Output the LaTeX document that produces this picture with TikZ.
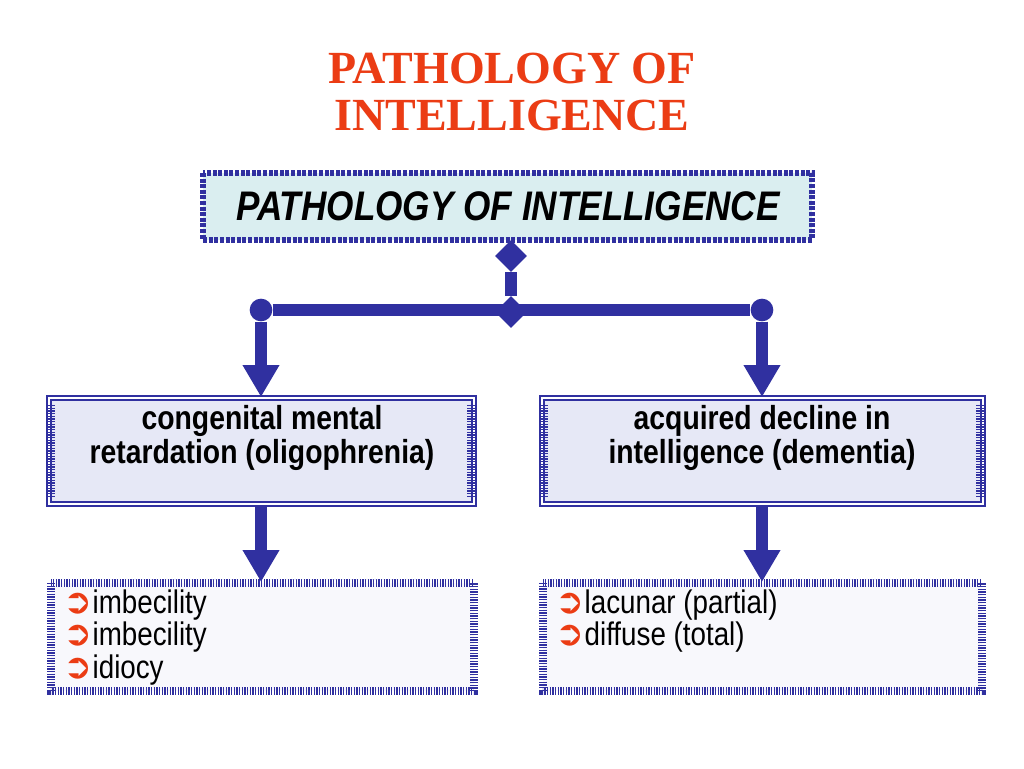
\documentclass[tikz,border=0pt]{standalone}
\usepackage{fontspec}
\setmainfont{Liberation Serif}
\newfontfamily\narrowsans[FakeStretch=0.85]{Liberation Sans}
\newfontfamily\symfont{DejaVu Sans}
\usepackage{tikz}
\usepackage{xcolor}
\usetikzlibrary{arrows.meta,shapes.geometric}
\definecolor{linkblue}{RGB}{48,48,160}
\definecolor{titlered}{RGB}{235,60,20}
\definecolor{topfill}{RGB}{218,238,240}
\definecolor{midfill}{RGB}{230,232,246}
\definecolor{lowfill}{RGB}{248,248,252}
\newcommand{\pointer}{{\color{titlered}\symfont\fontsize{26}{28}\selectfont ➲}}
\tikzset{
  topbox/.style={fill=topfill, draw=linkblue, line width=5pt, dash pattern=on 3pt off 1.2pt},
  midbox/.style={fill=midfill, draw=linkblue, double=white, double distance=1.5pt, line width=1.5pt},
  lowbox/.style={fill=lowfill, draw=linkblue, line width=6pt, dash pattern=on 1pt off 1pt},
  link/.style={draw=linkblue, line width=8.5pt},
  downarrow/.style={link, -{Triangle[length=24pt,width=26pt]}},
  dot/.style={circle, fill=linkblue, inner sep=0pt, minimum size=17pt},
  knot/.style={diamond, fill=linkblue, inner sep=0pt, minimum size=24pt},
}
\begin{document}
\begin{tikzpicture}[x=0.75pt,y=0.75pt,yscale=-1,xscale=1]
  \fill[white] (0,0) rectangle (1024,768);

  % Title
  \node (title) at (512,92) [align=center, text=titlered, font=\fontsize{34.5}{35}\selectfont\bfseries] {PATHOLOGY OF\\INTELLIGENCE};

  % Boxes
  \draw[topbox] (203,173) rectangle (812,240);
  \node (main) at (508,206) [font=\narrowsans\fontsize{31}{33}\selectfont\bfseries\itshape] {PATHOLOGY OF INTELLIGENCE};

  \draw[midbox] (49,398) rectangle (474,504);
  \draw[linkblue, line width=6pt, dash pattern=on 1pt off 1pt] (51,405) -- (51,497) (471,405) -- (471,497);
  \node (congenital) at (262,438) [align=center, font=\narrowsans\fontsize{25}{25}\selectfont\bfseries] {congenital mental\\retardation (oligophrenia)};

  \draw[midbox] (542,398) rectangle (983,504);
  \draw[linkblue, line width=6pt, dash pattern=on 1pt off 1pt] (544,405) -- (544,497) (980,405) -- (980,497);
  \node (acquired) at (762,438) [align=center, font=\narrowsans\fontsize{25}{25}\selectfont\bfseries] {acquired decline in\\intelligence (dementia)};

  \draw[lowbox] (51,583) rectangle (474,691);
  \node (oligo) at (62,588) [anchor=north west, align=left, inner sep=1pt, font=\narrowsans\fontsize{24.5}{24.5}\selectfont] {\pointer imbecility\\\pointer imbecility\\\pointer idiocy};

  \draw[lowbox] (543,583) rectangle (982,691);
  \node (dement) at (554,588) [anchor=north west, align=left, inner sep=1pt, font=\narrowsans\fontsize{24.5}{24.5}\selectfont] {\pointer lacunar (partial)\\\pointer diffuse (total)};

  % Connectors
  \node (top) at (511,256) [knot] {};
  \node (hub) at (511,312) [knot] {};
  \node (ldot) at (261,310) [dot] {};
  \node (rdot) at (762,310) [dot] {};
  \coordinate (lmid) at (261,397);
  \coordinate (rmid) at (762,397);
  \coordinate (lout) at (261,506);
  \coordinate (rout) at (762,506);
  \coordinate (llow) at (261,582);
  \coordinate (rlow) at (762,582);
  \draw[link] (top) -- (hub);
  \draw[link] (ldot) -- (rdot);
  \draw[downarrow] (ldot) -- (lmid);
  \draw[downarrow] (rdot) -- (rmid);
  \draw[downarrow] (lout) -- (llow);
  \draw[downarrow] (rout) -- (rlow);
\end{tikzpicture}
\end{document}
